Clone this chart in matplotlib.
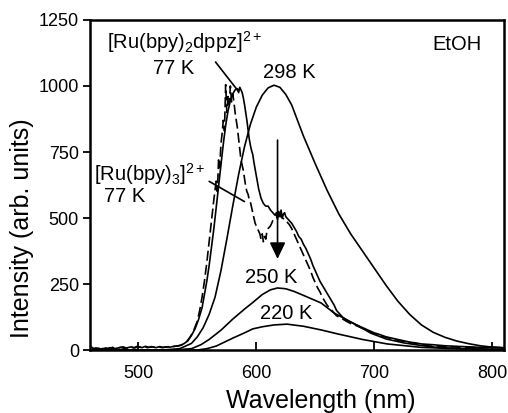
import matplotlib
matplotlib.use("Agg")
import matplotlib.pyplot as plt

plt.rcParams['font.family'] = ['Liberation Sans', 'DejaVu Sans']
plt.rcParams['mathtext.fontset'] = 'custom'
plt.rcParams['mathtext.rm'] = 'Liberation Sans'
plt.rcParams['mathtext.it'] = 'Liberation Sans'
plt.rcParams['mathtext.default'] = 'regular'

# ---- data ----
wl_298 = [460, 520, 535, 545, 550, 555, 560, 565, 570, 575, 580, 585, 590, 595, 600, 605, 610,
          615, 620, 625, 630, 640, 650, 660, 670, 680, 690, 700, 710, 720, 730, 740, 750, 760,
          770, 780, 790, 800, 810]
int_298 = [0, 0, 5, 25, 50, 85, 135, 200, 300, 420, 545, 665, 770, 855, 920, 965, 993,
           1003, 995, 968, 928, 810, 705, 605, 515, 440, 375, 310, 245, 185, 135, 95, 67, 48,
           34, 24, 16, 11, 8]

wl_250 = [460, 530, 545, 553, 560, 570, 580, 590, 597, 605, 612, 618, 625, 632, 641, 655, 666,
          685, 697, 710, 725, 740, 753, 770, 790, 810]
int_250 = [0, 0, 5, 20, 40, 75, 117, 155, 180, 210, 228, 235, 232, 222, 205, 178, 140,
           95, 64, 42, 27, 17, 10, 6, 3, 2]

wl_220 = [460, 550, 558, 566, 580, 590, 597, 605, 615, 626, 640, 655, 669, 690, 711, 740, 770, 810]
int_220 = [0, 0, 5, 15, 45, 65, 80, 88, 95, 98, 90, 76, 61, 40, 23, 10, 5, 2]

wl_dppz = [460, 462, 464, 467, 470, 473, 476, 479, 482, 485, 488, 491, 494, 497, 500, 503, 506,
           509, 512, 515, 518, 521, 524, 527, 530, 533, 536, 539, 542, 545, 548, 551, 554, 556,
           558, 560, 562, 564, 566, 568, 570, 572, 574, 576, 578, 580, 582, 584, 585, 586, 587,
           588, 589, 590, 591, 592, 593, 594, 595, 596, 597, 598, 599, 600, 602, 604, 606, 608,
           610, 612, 614, 616, 617, 618, 619, 620, 621, 622, 623, 624, 625, 626, 628, 630, 632,
           634, 636, 638, 640, 642, 644, 646, 648, 650, 652, 654, 656, 658, 660, 662, 664, 666,
           668, 670, 673, 676, 680, 685, 690, 695, 700, 705, 710, 715, 720, 725, 730, 735, 740,
           750, 760, 770, 780, 790, 800, 810]
int_dppz = [12, 5, 8, 3, 6, 4, 9, 5, 7, 10, 6, 9, 12, 8, 13, 9, 14,
            10, 12, 9, 13, 10, 12, 11, 14, 15, 18, 25, 35, 55, 80, 115, 160, 210,
            260, 320, 390, 460, 540, 620, 700, 780, 850, 905, 945, 970, 985, 990, 975, 995, 985,
            975, 955, 930, 900, 870, 835, 800, 775, 755, 740, 710, 685, 660, 610, 575, 555, 545,
            545, 530, 520, 510, 520, 495, 525, 505, 530, 500, 515, 520, 505, 500, 490, 480, 465,
            450, 430, 420, 400, 385, 365, 345, 320, 300, 280, 260, 245, 230, 215, 200, 185, 170,
            150, 140, 125, 115, 105, 95, 85, 75, 65, 58, 50, 45, 40, 35, 30, 27, 23,
            20, 16, 14, 12, 10, 10, 9]

wl_bpy3 = [460, 463, 466, 469, 472, 475, 478, 481, 484, 487, 490, 493, 496, 499, 502, 505, 508,
           511, 514, 517, 520, 523, 526, 529, 532, 535, 538, 541, 544, 547, 550, 552, 554, 556,
           558, 560, 562, 564, 566, 567, 568, 569, 570, 571, 572, 573, 574, 575, 576, 577, 578,
           579, 580, 581, 582, 583, 584, 585, 586, 587, 588, 589, 590, 591, 592, 593, 594, 595,
           596, 597, 598, 599, 600, 601, 602, 603, 604, 605, 606, 607, 608, 609, 610, 612, 614,
           616, 618, 620, 622, 624, 626, 628, 630, 632, 634, 636, 638, 640, 642, 644, 646, 648,
           650, 652, 654, 656, 658, 660, 662, 664, 666, 668, 670, 673, 676, 680, 685, 690, 695,
           700, 705, 710, 715, 720, 725, 730, 735, 740, 745, 750, 760, 770, 780, 790, 800, 810]
int_bpy3 = [10, 4, 7, 3, 8, 5, 10, 6, 9, 12, 7, 11, 8, 14, 10, 12, 9,
            13, 10, 12, 9, 11, 13, 12, 15, 17, 22, 32, 50, 75, 110, 150, 200, 260,
            330, 410, 490, 570, 640, 600, 720, 690, 780, 820, 870, 830, 1005, 900, 960, 930, 1000,
            940, 970, 940, 900, 870, 840, 800, 760, 720, 700, 680, 650, 620, 600, 590, 570, 560,
            540, 520, 500, 480, 470, 460, 450, 440, 420, 440, 410, 430, 420, 450, 460, 470, 490,
            500, 505, 510, 500, 495, 485, 475, 460, 440, 420, 400, 380, 360, 340, 320, 300, 275,
            255, 235, 220, 200, 185, 170, 160, 150, 140, 130, 125, 118, 110, 100, 92, 82, 72,
            62, 55, 48, 43, 37, 32, 28, 25, 20, 16, 14, 13, 11, 10, 9, 10, 8]

x_ticks = [500, 600, 700, 800]
y_ticks = [0, 250, 500, 750, 1000, 1250]

# ---- figure ----
fig = plt.figure(figsize=(5.08, 4.13), dpi=100)
ax = fig.add_axes([0.1772, 0.1525, 0.8149, 0.7991])

lw = 1.2
ax.plot(wl_298, int_298, color='black', lw=lw)
ax.plot(wl_250, int_250, color='black', lw=lw)
ax.plot(wl_220, int_220, color='black', lw=lw)
ax.plot(wl_dppz, int_dppz, color='black', lw=lw)
ax.plot(wl_bpy3, int_bpy3, color='black', lw=lw, linestyle=(0, (6, 2.5)))

ax.set_xlim(459, 810)
ax.set_ylim(0, 1250)
ax.set_xticks(x_ticks)
ax.set_yticks(y_ticks)
ax.tick_params(axis='x', direction='in', length=6, width=1.3, labelsize=13, pad=11)
ax.tick_params(axis='y', direction='out', length=5, width=1.3, labelsize=13, pad=3)
ax.tick_params(top=False, right=False)
for s in ax.spines.values():
    s.set_linewidth(1.8)

ax.set_xlabel('Wavelength (nm)', fontsize=18)
ax.xaxis.set_label_coords(0.558, -0.118)
ax.set_ylabel('Intensity (arb. units)', fontsize=18)
ax.yaxis.set_label_coords(-0.135, 0.37)

fs = 14.5
ax.text(539, 1167, '[Ru(bpy)$_2$dppz]$^{2+}$', fontsize=fs, ha='center', va='center')
ax.text(530, 1068, '77 K', fontsize=fs, ha='center', va='center')
ax.annotate('', xy=(586, 973), xytext=(564, 1099),
            arrowprops=dict(arrowstyle='-', color='black', lw=1.2))

ax.text(510, 667, '[Ru(bpy)$_3$]$^{2+}$', fontsize=fs, ha='center', va='center')
ax.text(488, 580, '77 K', fontsize=fs, ha='center', va='center')
ax.annotate('', xy=(592, 557), xytext=(558, 644),
            arrowprops=dict(arrowstyle='-', color='black', lw=1.2))

ax.text(628, 1053, '298 K', fontsize=fs, ha='center', va='center')
ax.text(613, 273, '250 K', fontsize=fs, ha='center', va='center')
ax.text(625, 140, '220 K', fontsize=fs, ha='center', va='center')
ax.text(770, 1156, 'EtOH', fontsize=fs, ha='center', va='center')

ax.annotate('', xy=(618, 345), xytext=(618, 795),
            arrowprops=dict(arrowstyle='-|>,head_length=0.5,head_width=0.24',
                            mutation_scale=20, color='black', lw=1.2, shrinkA=0, shrinkB=0))

fig.savefig('out.png', dpi=100)
